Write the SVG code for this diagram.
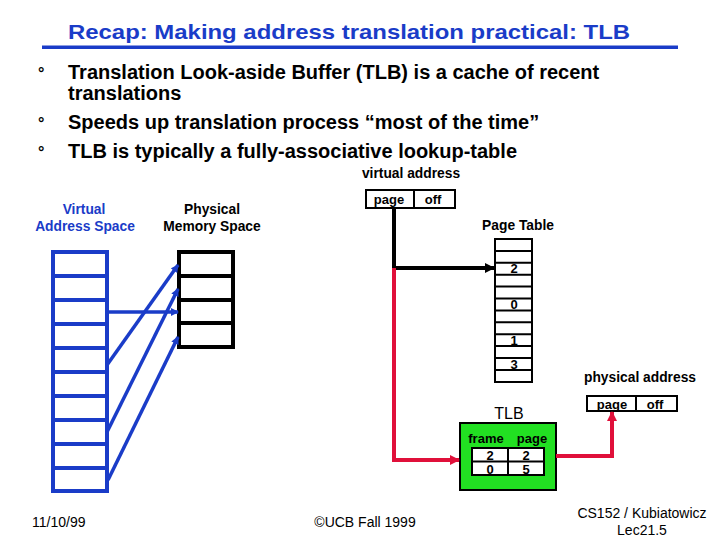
<svg xmlns="http://www.w3.org/2000/svg" width="720" height="540" viewBox="0 0 720 540">
<style>
text{font-family:"Liberation Sans",Arial,sans-serif;}
.title{font-size:21px;font-weight:bold;fill:#1a3cc8;}
.bul{font-size:20px;font-weight:bold;fill:#000;}
.lbl{font-size:13.8px;font-weight:bold;fill:#000;}
.lblb{font-size:13.8px;font-weight:bold;fill:#1a3cc8;}
.cell{font-size:13px;font-weight:bold;fill:#000;text-anchor:middle;}
.foot{font-size:14px;fill:#000;}
.vas{fill:#fff;stroke:#1a3cc8;stroke-width:4;}
.pms{fill:#fff;stroke:#000;stroke-width:4;}
.thin{fill:#fff;stroke:#000;stroke-width:2;}
.blue{stroke:#1a3cc8;stroke-width:3.5;fill:none;}
.blk{stroke:#000;stroke-width:4;fill:none;}
.red{stroke:#e0103a;stroke-width:4;fill:none;}
</style>
<defs>
<marker id="ab" markerWidth="8" markerHeight="8" refX="7" refY="4" orient="auto" markerUnits="userSpaceOnUse" viewBox="0 0 8 8"><path d="M0,0 L8,4 L0,8 z" fill="#1a3cc8"/></marker>
<marker id="ak" markerWidth="10" markerHeight="10" refX="9" refY="5" orient="auto" markerUnits="userSpaceOnUse" viewBox="0 0 10 10"><path d="M0,0 L10,5 L0,10 z" fill="#000"/></marker>
<marker id="ar" markerWidth="10" markerHeight="10" refX="9" refY="5" orient="auto" markerUnits="userSpaceOnUse" viewBox="0 0 10 10"><path d="M0,0 L10,5 L0,10 z" fill="#e0103a"/></marker>
</defs>

<g id="title">
<text class="title" x="68" y="39" textLength="562" lengthAdjust="spacingAndGlyphs">Recap: Making address translation practical: TLB</text>
<rect x="42" y="45.5" width="636" height="3.5" fill="#1a3cc8"/>
</g>

<g id="bullets">
<text class="bul" x="38" y="79" style="font-size:16px">°</text>
<text class="bul" x="68" y="79">Translation Look-aside Buffer (TLB)  is a cache of recent</text>
<text class="bul" x="68" y="100">translations</text>
<text class="bul" x="38" y="129" style="font-size:16px">°</text>
<text class="bul" x="68" y="129">Speeds up translation process “most of the time”</text>
<text class="bul" x="38" y="158" style="font-size:16px">°</text>
<text class="bul" x="68" y="158">TLB is typically a fully-associative lookup-table</text>
</g>

<g id="virtual-space">
<text class="lblb" x="84" y="214" text-anchor="middle">Virtual</text>
<text class="lblb" x="85" y="231" text-anchor="middle">Address Space</text>
<rect class="vas" x="53" y="252" width="54" height="239"/>
<path stroke="#1a3cc8" stroke-width="4" d="M53,276H107M53,300H107M53,324H107M53,348H107M53,372H107M53,396H107M53,420H107M53,444H107M53,468H107"/>
</g>

<g id="physical-space">
<text class="lbl" x="212" y="214" text-anchor="middle">Physical</text>
<text class="lbl" x="212" y="231" text-anchor="middle">Memory Space</text>
<rect class="pms" x="179" y="252" width="54" height="95"/>
<path stroke="#000" stroke-width="4" d="M179,276H233M179,300H233M179,323H233"/>
</g>

<g id="virtual-address">
<text class="lbl" x="411" y="178" text-anchor="middle">virtual address</text>
<rect class="thin" x="366" y="190" width="89" height="18"/>
<line x1="414" y1="190" x2="414" y2="208" stroke="#000" stroke-width="2"/>
<text class="cell" x="389" y="204">page</text>
<text class="cell" x="433" y="204">off</text>
</g>

<g id="page-table">
<text class="lbl" x="518" y="230" text-anchor="middle">Page Table</text>
<rect class="thin" x="495" y="239" width="37" height="143"/>
<path stroke="#000" stroke-width="2" d="M495,250.9H532M495,262.8H532M495,274.7H532M495,286.6H532M495,298.5H532M495,310.4H532M495,322.3H532M495,334.2H532M495,346.1H532M495,358H532M495,370H532"/>
<text class="cell" x="514" y="273">2</text>
<text class="cell" x="514" y="309">0</text>
<text class="cell" x="514" y="345">1</text>
<text class="cell" x="514" y="369">3</text>
</g>

<g id="tlb">
<text x="509" y="419" text-anchor="middle" style="font-size:16px;fill:#000">TLB</text>
<rect x="460" y="423" width="96" height="67" fill="#22e022" stroke="#000" stroke-width="2"/>
<text class="cell" x="486" y="443">frame</text>
<text class="cell" x="532" y="443">page</text>
<rect class="thin" x="472" y="448" width="72" height="27"/>
<line x1="472" y1="461.5" x2="544" y2="461.5" stroke="#000" stroke-width="2"/>
<line x1="508" y1="448" x2="508" y2="475" stroke="#000" stroke-width="2"/>
<text class="cell" x="490" y="460">2</text>
<text class="cell" x="526" y="460">2</text>
<text class="cell" x="490" y="474">0</text>
<text class="cell" x="526" y="474">5</text>
</g>

<g id="physical-address">
<text class="lbl" x="640" y="382" text-anchor="middle">physical address</text>
<rect class="thin" x="587" y="396" width="90" height="15"/>
<line x1="636" y1="396" x2="636" y2="411" stroke="#000" stroke-width="2"/>
<text class="cell" x="612" y="409">page</text>
<text class="cell" x="655" y="409">off</text>
</g>

<g id="connectors">
<line class="blue" x1="107" y1="312" x2="178" y2="312" marker-end="url(#ab)"/>
<line class="blue" x1="107" y1="365" x2="178" y2="265" marker-end="url(#ab)"/>
<line class="blue" x1="107" y1="432" x2="178" y2="289" marker-end="url(#ab)"/>
<line class="blue" x1="108" y1="480" x2="178" y2="337" marker-end="url(#ab)"/>
<path class="blk" d="M394,208V268H494" marker-end="url(#ak)"/>
<path class="red" d="M394,268V460H459" marker-end="url(#ar)"/>
<path class="red" d="M556,456H612V412" marker-end="url(#ar)"/>
</g>

<g id="footer">
<text class="foot" x="32" y="527">11/10/99</text>
<text class="foot" x="365" y="527" text-anchor="middle">©UCB Fall 1999</text>
<text class="foot" x="642" y="518" text-anchor="middle">CS152 / Kubiatowicz</text>
<text class="foot" x="642" y="535" text-anchor="middle">Lec21.5</text>
</g>
</svg>
